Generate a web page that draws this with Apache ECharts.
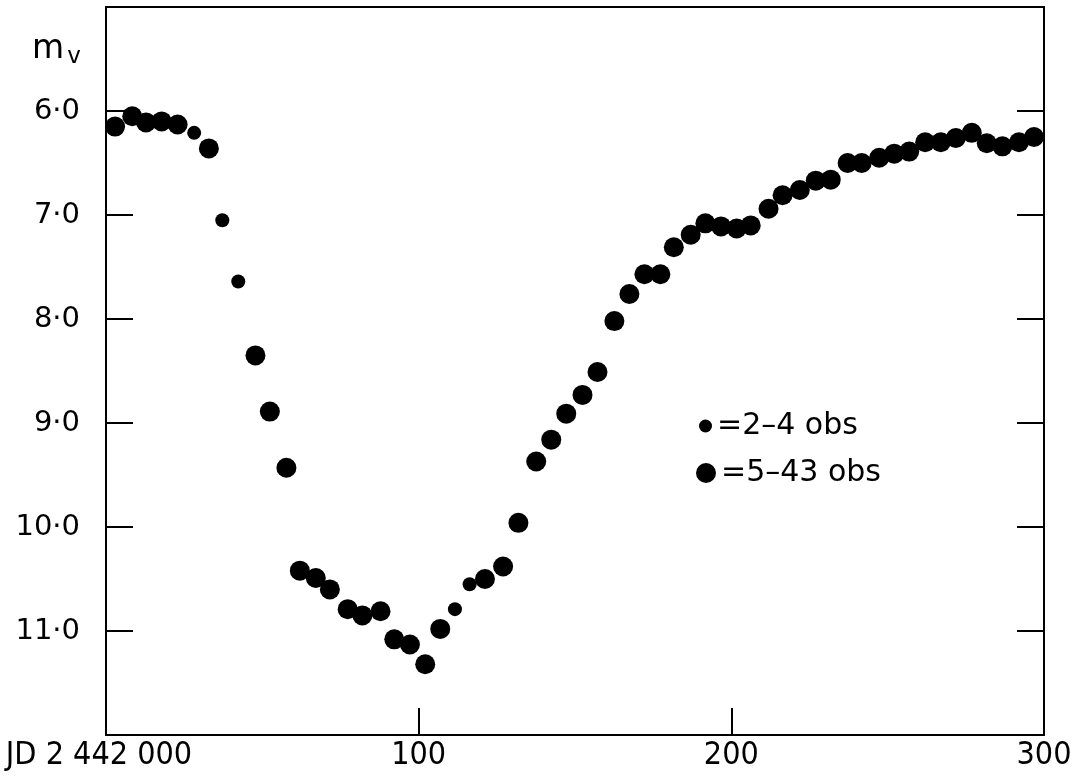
<!DOCTYPE html>
<html>
<head>
<meta charset="utf-8">
<script src="https://cdn.jsdelivr.net/npm/echarts@6/dist/echarts.min.js"></script>
<style>
  html, body { margin: 0; padding: 0; background: #fff; }
  #chart { width: 1075px; height: 783px; }
</style>
</head>
<body>
<div id="chart"></div>
<script>
// light curve, days after JD 2 442 000 vs visual magnitude

// points from 2-4 observations (small dots)
var smallDays = [28.2, 37.2, 42.3, 111.6, 116.3];
var smallMags = [6.21, 7.05, 7.64, 10.79, 10.55];

// points from 5-43 observations (big dots)
var bigDays = [2.9, 8.4, 12.8, 17.8, 22.9, 32.9, 47.8, 52.4, 57.7, 62.0,
    67.1, 71.6, 77.3, 82.0, 87.8, 92.2, 97.2, 102.1, 106.9, 121.2,
    127.0, 131.9, 137.6, 142.4, 147.2, 152.4, 157.2, 162.6, 167.4, 172.2,
    177.3, 181.6, 187.0, 191.7, 196.7, 201.7, 206.2, 211.9, 216.4, 221.9,
    227.0, 231.8, 237.2, 241.7, 247.3, 252.1, 256.9, 262.0, 267.0, 271.8,
    276.9, 281.7, 286.7, 292.0, 296.8];
var bigMags = [6.15, 6.05, 6.11, 6.10, 6.13, 6.36, 8.35, 8.89, 9.43, 10.42,
    10.49, 10.60, 10.79, 10.85, 10.81, 11.08, 11.13, 11.32, 10.98, 10.50,
    10.38, 9.96, 9.37, 9.16, 8.91, 8.73, 8.51, 8.02, 7.76, 7.57,
    7.57, 7.31, 7.19, 7.08, 7.11, 7.13, 7.10, 6.94, 6.81, 6.76,
    6.67, 6.66, 6.50, 6.50, 6.45, 6.41, 6.39, 6.30, 6.30, 6.26,
    6.21, 6.31, 6.34, 6.30, 6.25];

var xTickLabels = {0: '{jd|JD 2 442 000}', 100: '100', 200: '200', 300: '300'};
var legendNames = ['=2\u20134 obs', '=5\u201343 obs'];

function pairs(xs, ys) {
    var out = [];
    for (var i = 0; i < xs.length; i++) {
        out.push([xs[i], ys[i]]);
    }
    return out;
}

var chart = echarts.init(document.getElementById('chart'));

var labelFont = "'DejaVu Sans', sans-serif";
var narrowFont = "'Liberation Sans Narrow', 'DejaVu Sans Condensed', 'Roboto', sans-serif";

var option = {
    backgroundColor: '#fff',
    animation: false,
    title: {
        text: 'm{v|v}',
        left: 27,
        top: 25,
        textStyle: {
            fontFamily: labelFont,
            fontSize: 33,
            fontWeight: 'normal',
            color: '#000',
            rich: {
                v: {fontFamily: labelFont, fontSize: 23, color: '#000', padding: [16, 0, 0, 3]}
            }
        }
    },
    grid: {
        left: 106,
        right: 31,
        top: 7,
        bottom: 48,
        show: true,
        borderColor: '#000',
        borderWidth: 2
    },
    legend: [{
        data: [legendNames[0]],
        orient: 'vertical',
        left: 694,
        top: 405,
        icon: 'circle',
        itemWidth: 13,
        itemHeight: 13,
        textStyle: {fontFamily: labelFont, fontSize: 30, color: '#000', lineHeight: 32}
    }, {
        data: [legendNames[1]],
        orient: 'vertical',
        left: 691,
        top: 452,
        icon: 'circle',
        itemWidth: 20,
        itemHeight: 20,
        textStyle: {fontFamily: labelFont, fontSize: 30, color: '#000', lineHeight: 32}
    }],
    xAxis: {
        type: 'value',
        min: 0,
        max: 300,
        interval: 100,
        axisLine: {show: true, lineStyle: {color: '#000', width: 2}},
        axisTick: {show: true, inside: true, length: 27, lineStyle: {color: '#000', width: 2}},
        splitLine: {show: false},
        axisLabel: {
            margin: 5,
            fontFamily: narrowFont,
            fontSize: 32,
            color: '#000',
            formatter: function (v) { return xTickLabels[v] || ''; },
            rich: {
                jd: {fontFamily: narrowFont, fontSize: 32, color: '#000', padding: [0, 14, 0, 0]}
            }
        }
    },
    yAxis: [{
        type: 'value',
        min: 5,
        max: 12,
        interval: 1,
        inverse: true,
        position: 'left',
        axisLine: {show: true, lineStyle: {color: '#000', width: 2}},
        axisTick: {show: true, inside: true, length: 27, lineStyle: {color: '#000', width: 2}},
        splitLine: {show: false},
        axisLabel: {
            margin: 26,
            fontFamily: labelFont,
            fontSize: 29,
            color: '#000',
            formatter: function (v) {
                if (v < 6 || v > 11) return '';
                return v.toFixed(1).replace('.', '\u00b7');
            }
        }
    }, {
        type: 'value',
        min: 5,
        max: 12,
        interval: 1,
        inverse: true,
        position: 'right',
        axisLine: {show: true, lineStyle: {color: '#000', width: 2}},
        axisTick: {show: true, inside: true, length: 27, lineStyle: {color: '#000', width: 2}},
        splitLine: {show: false},
        axisLabel: {show: false}
    }],
    series: [{
        name: legendNames[0],
        type: 'scatter',
        symbol: 'circle',
        symbolSize: 14,
        itemStyle: {color: '#000', opacity: 1},
        data: pairs(smallDays, smallMags)
    }, {
        name: legendNames[1],
        type: 'scatter',
        symbol: 'circle',
        symbolSize: 20,
        itemStyle: {color: '#000', opacity: 1},
        data: pairs(bigDays, bigMags)
    }]
};

chart.setOption(option);
</script>
</body>
</html>
